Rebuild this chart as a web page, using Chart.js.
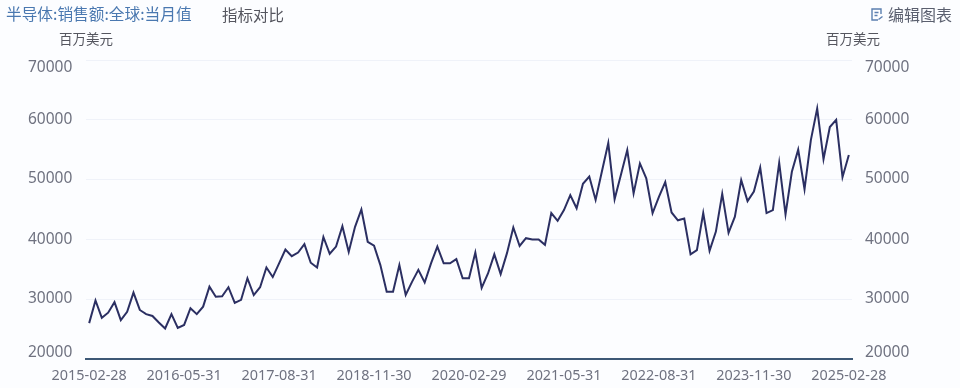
<!DOCTYPE html>
<html><head><meta charset="utf-8">
<script src="https://cdn.jsdelivr.net/npm/chart.js@4"></script>
<style>
html,body{margin:0;padding:0;background:#fcfdff;width:960px;height:388px;overflow:hidden}
#wrap{position:relative;width:960px;height:388px}
canvas{position:absolute;left:0;top:0}
.t{position:absolute;font-family:"Noto Sans CJK SC",sans-serif;white-space:nowrap;line-height:20px}
</style></head><body>
<div id="wrap">
<canvas id="c" width="960" height="388"></canvas>
<div class="t" style="left:6px;top:4px;font-size:15.7px;color:#4a78b0">半导体:销售额:全球:当月值</div>
<div class="t" style="left:222px;top:4px;font-size:15.5px;color:#55565f">指标对比</div>
<div class="t" style="left:888px;top:4px;font-size:16px;color:#5a5f6e">编辑图表</div>
<svg style="position:absolute;left:870px;top:7px" width="14" height="15" viewBox="0 0 14 15" fill="none" stroke="#5b7fb0" stroke-width="1.4"><path d="M11 7V2H2v11h6"/><path d="M4.5 5.5h4M4.5 8.5h3M8.5 12.5l4-3"/></svg>
<div class="t" style="left:59px;top:28px;font-size:13.5px;color:#55565f">百万美元</div>
<div class="t" style="left:826px;top:28px;font-size:13.5px;color:#55565f">百万美元</div>
</div>
<script>
const salesValues = [
26000,29800,26900,27750,29500,26500,27900,31100,28200,27500,27200,26100,25100,27500,25200,25700,
28500,27500,28750,32100,30400,30500,32000,29400,29900,33500,30700,32000,35300,33700,36000,38300,
37200,37800,39200,36100,35300,40400,37600,38800,42200,37900,42100,45000,39600,38950,35700,31250,
31250,35700,30700,32900,34900,32800,36000,38800,36000,36000,36700,33500,33500,37800,31900,34300,
37500,34200,37700,42000,38900,40200,40000,40000,39100,44400,43100,44900,47400,45200,49300,50500,
46600,51400,56100,46700,50800,54950,47700,52700,50200,44400,47100,49600,44500,43200,43500,37500,
38200,44400,38100,41300,47600,41100,43800,49900,46400,48000,52000,44400,44900,52800,44200,51300,
55000,48400,56600,61900,53400,58800,60000,50400,54100];
const tickLabels = ["2015-02-28","2016-05-31","2017-08-31","2018-11-30","2020-02-29","2021-05-31","2022-08-31","2023-11-30","2025-02-28"];
const yTicks = [20000,30000,40000,50000,60000,70000];
const startYear = 2015, startMonth = 1;
const categories = salesValues.map((_, i) => {
  const d = new Date(Date.UTC(startYear, startMonth + i + 1, 0));
  return d.toISOString().slice(0, 10);
});
const labelShift = {20000:-6,30000:-1,40000:0,50000:-1,60000:0,70000:8};
const yLabelPlugin = {
  id:'yLabels',
  afterDraw(chart){
    const {ctx} = chart;
    ctx.save();
    ctx.font = '15.5px "Noto Sans", sans-serif';
    ctx.fillStyle = '#6f7280';
    ctx.textBaseline = 'middle';
    ctx.textAlign = 'left';
    yTicks.forEach(v => {
      const yL = chart.scales.y.getPixelForValue(v) + labelShift[v];
      ctx.fillText(String(v), 28, yL);
      ctx.fillText(String(v), 865, yL);
    });
    ctx.restore();
  }
};
const yScale = (position, w) => ({
  type:'linear', position, min:20000, max:70000,
  afterBuildTicks(s){ s.ticks = yTicks.map(value => ({value})); },
  afterFit(s){ s.width = w; },
  ticks:{display:false},
  border:{display:false},
  grid:{color: position==='left' ? '#eff2f9' : 'transparent', lineWidth:1, drawTicks:false}
});
new Chart(document.getElementById('c'),{
  type:'line',
  data:{labels:categories,datasets:[{data:salesValues,borderColor:'#2b2f62',borderWidth:2,pointRadius:0,tension:0,fill:false,borderJoinStyle:'miter',yAxisID:'y'},
    {data:[],yAxisID:'y2'}]},
  options:{
    responsive:false,animation:false,
    layout:{padding:{left:0,right:0,top:60,bottom:0}},
    plugins:{legend:{display:false},tooltip:{enabled:false}},
    scales:{
      x:{type:'category',offset:true,
        afterFit(s){ s.height = 29; },
        grid:{display:false,drawTicks:false},
        border:{display:true,color:'#3d5876',width:2},
        ticks:{autoSkip:false,maxRotation:0,padding:8,color:'#6f7280',
          font:{family:'"Noto Sans", sans-serif',size:14.4},
          callback(v,i){ return i%15===0 ? tickLabels[i/15] : null; }}
      },
      y:yScale('left',86),
      y2:yScale('right',108)
    }
  },
  plugins:[yLabelPlugin]
});
</script>
</body></html>
